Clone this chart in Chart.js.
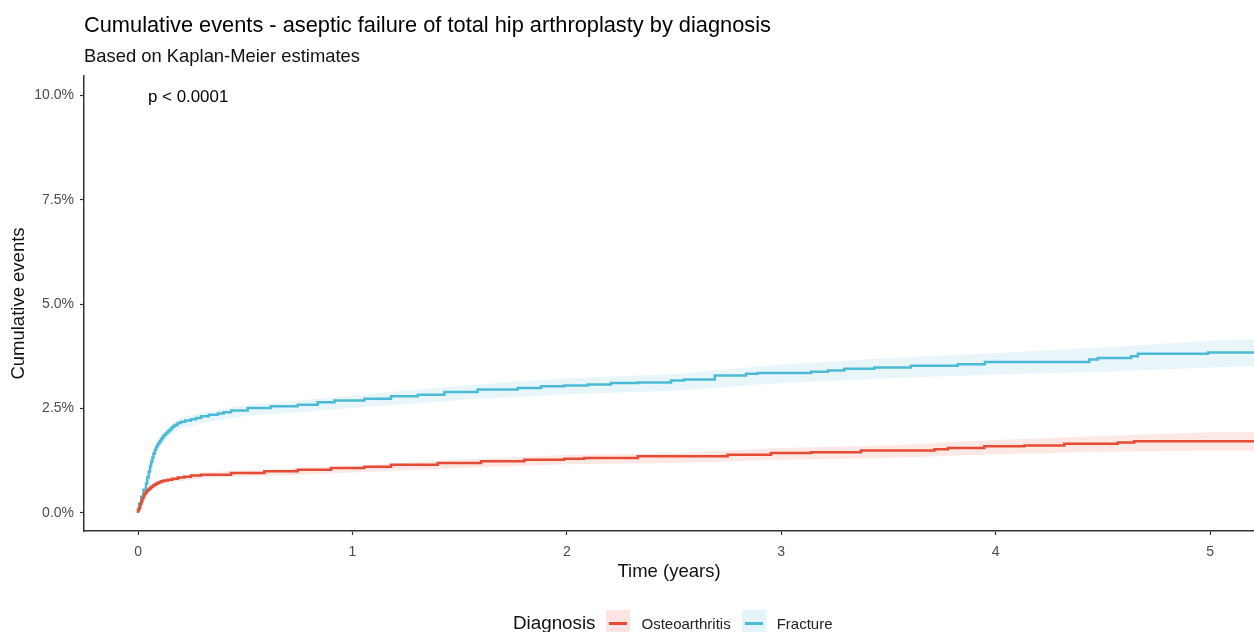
<!DOCTYPE html>
<html>
<head>
<meta charset="utf-8">
<script src="https://cdn.jsdelivr.net/npm/chart.js@4/dist/chart.umd.min.js"></script>
<style>
  html, body { margin: 0; padding: 0; background: #fff; }
  #wrap { position: relative; width: 1254px; height: 632px; overflow: hidden; font-family: "Liberation Sans", Arial, sans-serif; }
  #c { position: absolute; left: 0; top: 0; }
  .txt { position: absolute; white-space: nowrap; line-height: 1; }
  #title { left: 84px; top: 14px; font-size: 21.8px; color: #000; }
  #subtitle { left: 84px; top: 46.5px; font-size: 18.4px; color: #111; }
  #pval { left: 148px; top: 88.5px; font-size: 16.9px; color: #000; }
  #legend { position: absolute; left: 513px; top: 610px; height: 26px; display: flex; align-items: center; font-family: "Liberation Sans", Arial, sans-serif; }
  #legend .ttl { font-size: 18.8px; color: #111; margin-right: 11px; }
  #legend .sw { width: 24px; height: 26px; position: relative; margin-right: 11px; }
  #legend .sw i { position: absolute; left: 3px; right: 3px; top: 12px; height: 2.5px; }
  #legend .lab { font-size: 15px; color: #222; margin-right: 11px; }
</style>
</head>
<body>
<div id="wrap">
  <canvas id="c" width="1254" height="632"></canvas>
  <div class="txt" id="title">Cumulative events - aseptic failure of total hip arthroplasty by diagnosis</div>
  <div class="txt" id="subtitle">Based on Kaplan-Meier estimates</div>
  <div class="txt" id="pval">p &lt; 0.0001</div>
  <div id="legend">
    <span class="ttl">Diagnosis</span>
    <span class="sw" style="background:rgba(230,75,53,0.15)"><i style="background:#E64B35"></i></span>
    <span class="lab">Osteoarthritis</span>
    <span class="sw" style="background:rgba(77,187,213,0.15)"><i style="background:#4DBBD5"></i></span>
    <span class="lab">Fracture</span>
  </div>
</div>
<script>
// ---- Data ----
const seriesNames = ["Osteoarthritis", "Fracture"];

const oaTime = [0, 0.005, 0.01, 0.015, 0.02, 0.025, 0.029, 0.035, 0.04, 0.047, 0.053, 0.059, 0.065, 0.07, 0.076, 0.083, 0.09, 0.098, 0.107, 0.12, 0.139, 0.16, 0.185, 0.215, 0.247, 0.294, 0.434, 0.589, 0.745, 0.9, 1.056, 1.18, 1.398, 1.6, 1.802, 1.988, 2.082, 2.331, 2.75, 2.952, 3.139, 3.372, 3.715, 3.777, 3.947, 4.134, 4.32, 4.57, 4.647, 4.663, 5.21];
const oaEvents = [0, 0.06, 0.12, 0.2, 0.27, 0.34, 0.39, 0.44, 0.48, 0.52, 0.55, 0.58, 0.61, 0.63, 0.65, 0.67, 0.69, 0.71, 0.73, 0.75, 0.77, 0.79, 0.81, 0.84, 0.86, 0.89, 0.91, 0.95, 0.99, 1.03, 1.07, 1.10, 1.15, 1.19, 1.23, 1.27, 1.29, 1.31, 1.35, 1.39, 1.43, 1.45, 1.49, 1.52, 1.55, 1.59, 1.61, 1.65, 1.68, 1.71, 1.71];

const frTime = [0, 0.005, 0.015, 0.025, 0.037, 0.043, 0.05, 0.056, 0.061, 0.067, 0.072, 0.078, 0.084, 0.09, 0.095, 0.101, 0.107, 0.113, 0.12, 0.13, 0.139, 0.147, 0.155, 0.162, 0.169, 0.177, 0.185, 0.2, 0.22, 0.247, 0.27, 0.294, 0.33, 0.372, 0.4, 0.434, 0.511, 0.62, 0.745, 0.838, 0.916, 1.056, 1.18, 1.305, 1.429, 1.584, 1.771, 1.88, 1.988, 2.097, 2.206, 2.331, 2.486, 2.548, 2.69, 2.836, 2.89, 3.139, 3.217, 3.294, 3.434, 3.605, 3.823, 3.95, 4.437, 4.476, 4.632, 4.663, 4.99, 5.02, 5.21];
const frEvents = [0, 0.08, 0.22, 0.38, 0.55, 0.7, 0.85, 0.98, 1.11, 1.22, 1.32, 1.42, 1.51, 1.57, 1.62, 1.67, 1.71, 1.76, 1.80, 1.86, 1.91, 1.95, 1.99, 2.03, 2.06, 2.09, 2.11, 2.15, 2.18, 2.21, 2.24, 2.27, 2.31, 2.35, 2.38, 2.41, 2.45, 2.51, 2.55, 2.59, 2.65, 2.69, 2.73, 2.79, 2.83, 2.89, 2.95, 2.99, 3.03, 3.05, 3.07, 3.11, 3.12, 3.17, 3.19, 3.29, 3.33, 3.35, 3.38, 3.41, 3.45, 3.48, 3.52, 3.56, 3.61, 3.67, 3.71, 3.75, 3.81, 3.84, 3.84];

// confidence bands
const bandTime = [0, 0.025, 0.05, 0.075, 0.1, 0.15, 0.2, 0.3, 0.5, 0.75, 1, 1.5, 2, 2.5, 3, 3.5, 4, 4.5, 5, 5.21];
const oaLower = [0, 0.30, 0.49, 0.60, 0.67, 0.72, 0.76, 0.82, 0.87, 0.91, 0.96, 1.07, 1.16, 1.19, 1.27, 1.31, 1.40, 1.46, 1.49, 1.49];
const oaUpper = [0, 0.38, 0.59, 0.70, 0.79, 0.84, 0.88, 0.96, 1.01, 1.07, 1.12, 1.27, 1.38, 1.43, 1.55, 1.61, 1.74, 1.84, 1.93, 1.93];
const frLower = [0, 0.32, 0.76, 1.26, 1.58, 1.85, 2.02, 2.14, 2.32, 2.41, 2.51, 2.70, 2.84, 2.92, 3.11, 3.22, 3.31, 3.38, 3.48, 3.52];
const frUpper = [0, 0.44, 0.96, 1.48, 1.82, 2.09, 2.28, 2.40, 2.58, 2.69, 2.81, 3.04, 3.22, 3.32, 3.55, 3.70, 3.83, 3.96, 4.12, 4.16];

const xTicks = [0, 1, 2, 3, 4, 5];
const yTicks = [0, 2.5, 5, 7.5, 10];

// ---- Build ----
const pts = (xs, ys) => xs.map((x, i) => ({ x: x, y: ys[i] }));
const RED = "#E64B35", BLUE = "#4DBBD5";

const datasets = [
  { label: "oaLower", data: pts(bandTime, oaLower), borderWidth: 0, pointRadius: 0, fill: false },
  { label: "oaUpper", data: pts(bandTime, oaUpper), borderWidth: 0, pointRadius: 0, fill: "-1", backgroundColor: "rgba(230,75,53,0.13)" },
  { label: "frLower", data: pts(bandTime, frLower), borderWidth: 0, pointRadius: 0, fill: false },
  { label: "frUpper", data: pts(bandTime, frUpper), borderWidth: 0, pointRadius: 0, fill: "-1", backgroundColor: "rgba(77,187,213,0.13)" },
  { label: seriesNames[0], data: pts(oaTime, oaEvents), borderColor: RED, borderWidth: 2.5, pointRadius: 0, stepped: "after", fill: false },
  { label: seriesNames[1], data: pts(frTime, frEvents), borderColor: BLUE, borderWidth: 2.5, pointRadius: 0, stepped: "after", fill: false }
];

new Chart(document.getElementById("c"), {
  type: "line",
  data: { datasets: datasets },
  options: {
    responsive: false,
    animation: false,
    devicePixelRatio: 1,
    layout: { padding: { top: 76, right: 0, left: 0, bottom: 0 } },
    plugins: { legend: { display: false }, tooltip: { enabled: false }, title: { display: false } },
    scales: {
      x: {
        type: "linear",
        min: -0.252, max: 5.205,
        afterFit: s => { s.height = 101; },
        afterBuildTicks: s => { s.ticks = xTicks.map(v => ({ value: v })); },
        ticks: { stepSize: 1, includeBounds: false, color: "#4D4D4D", padding: 9, maxRotation: 0,
                 font: { family: "Liberation Sans", size: 14 }, callback: v => String(v) },
        grid: { display: true, drawOnChartArea: false, drawTicks: true, tickLength: 4, tickColor: "#333", tickWidth: 1.2 },
        border: { display: true, color: "#333", width: 1.5 },
        title: { display: true, text: "Time (years)", color: "#111", padding: { top: 0, bottom: 49 },
                 font: { family: "Liberation Sans", size: 18.5 } }
      },
      y: {
        type: "linear",
        min: -0.44, max: 10.47,
        afterFit: s => { s.width = 84; },
        afterBuildTicks: s => { s.ticks = yTicks.map(v => ({ value: v })); },
        ticks: { stepSize: 2.5, includeBounds: false, color: "#4D4D4D", padding: 6,
                 font: { family: "Liberation Sans", size: 14 }, callback: v => Number(v).toFixed(1) + "%" },
        grid: { display: true, drawOnChartArea: false, drawTicks: true, tickLength: 4, tickColor: "#333", tickWidth: 1.2 },
        border: { display: true, color: "#333", width: 1.5 },
        title: { display: true, text: "Cumulative events", color: "#111", padding: { top: 8, bottom: 0 },
                 font: { family: "Liberation Sans", size: 18.5 } }
      }
    }
  }
});
</script>
</body>
</html>
